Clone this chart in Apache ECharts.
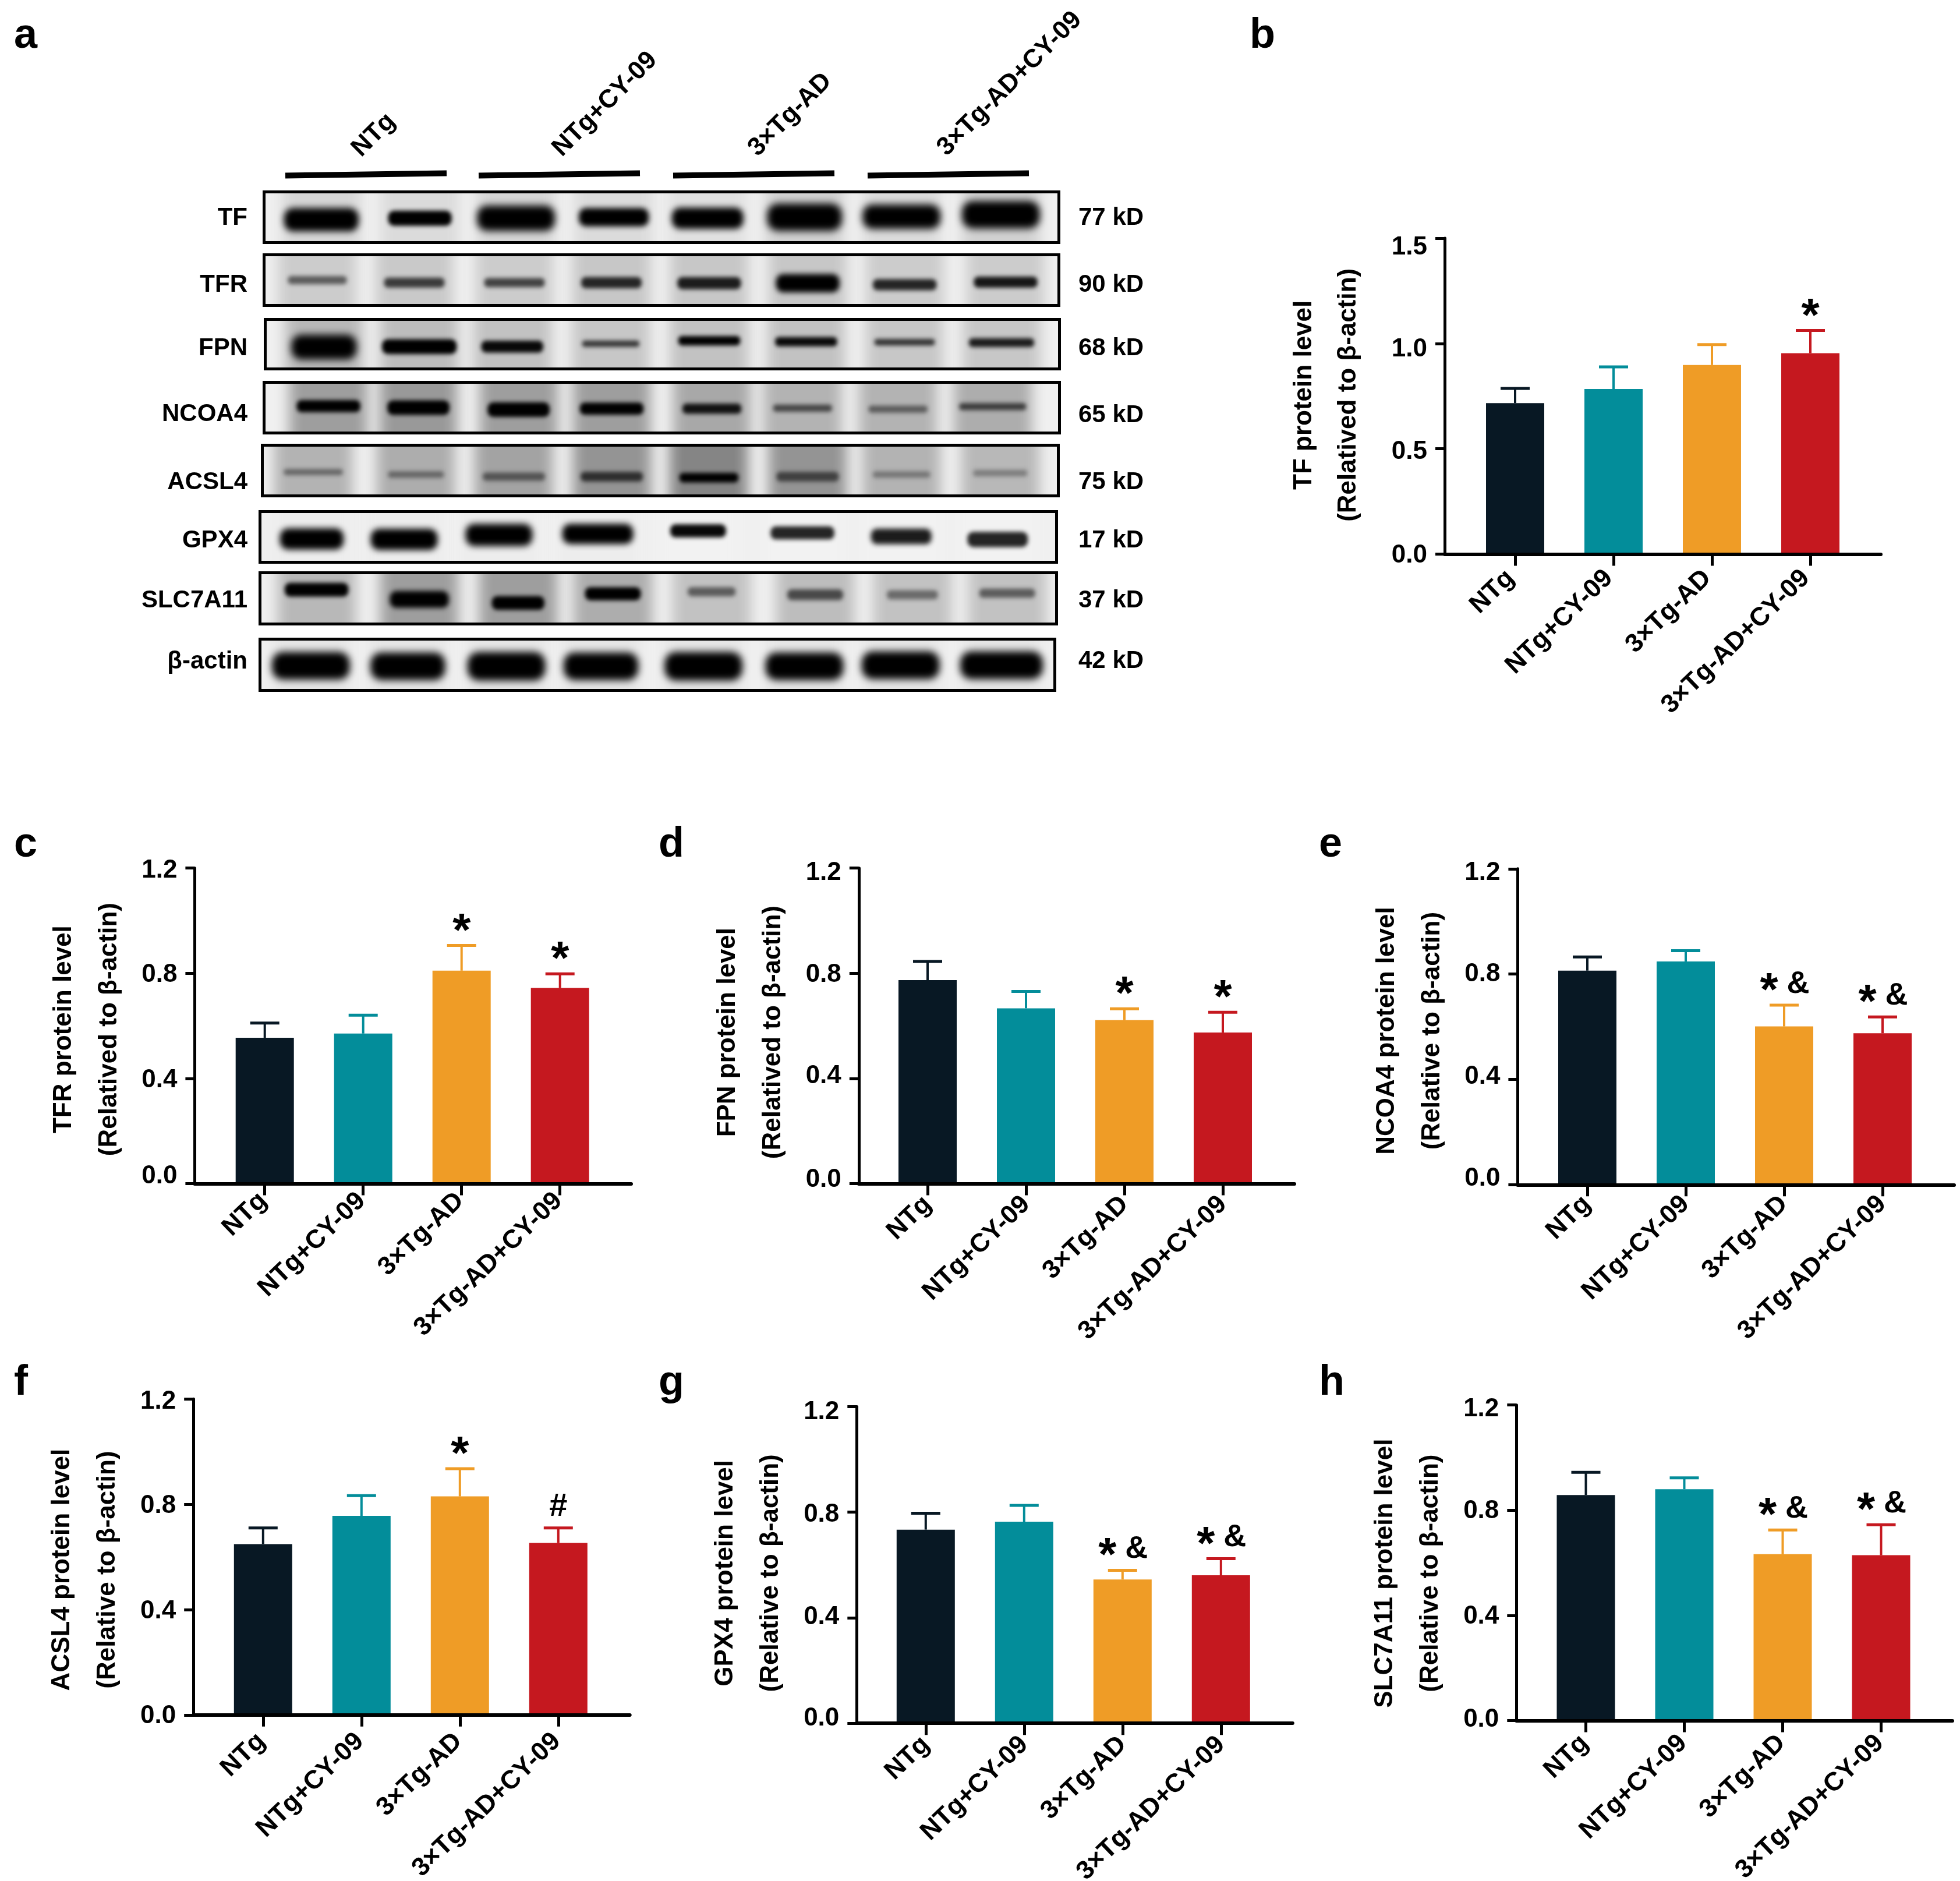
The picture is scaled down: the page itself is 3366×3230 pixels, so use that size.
<!DOCTYPE html>
<html><head><meta charset="utf-8">
<style>html,body{margin:0;padding:0;background:#fff}#c{width:3366px;height:3230px}</style>
<script src="https://cdn.jsdelivr.net/npm/echarts@6/dist/echarts.min.js"></script>
</head><body><div id="c"></div>
<script>
// ---------- bar chart data ----------
const categories = ['NTg','NTg+CY-09','3×Tg-AD','3×Tg-AD+CY-09'];
const tfMeans   = [0.717,0.784,0.898,0.954];  const tfUppers   = [0.787,0.889,0.995,1.062];  const tfMarks   = ['','','','*'];
const tfrMeans  = [0.555,0.571,0.810,0.744];  const tfrUppers  = [0.611,0.641,0.906,0.798];  const tfrMarks  = ['','','*','*'];
const fpnMeans  = [0.774,0.667,0.622,0.575];  const fpnUppers  = [0.845,0.731,0.665,0.652];  const fpnMarks  = ['','','*','*'];
const ncoaMeans = [0.813,0.848,0.601,0.575];  const ncoaUppers = [0.865,0.889,0.682,0.637];  const ncoaMarks = ['','','*&','*&'];
const acslMeans = [0.649,0.756,0.830,0.653];  const acslUppers = [0.710,0.833,0.935,0.710];  const acslMarks = ['','','*','#'];
const gpxMeans  = [0.734,0.764,0.545,0.561];  const gpxUppers  = [0.796,0.826,0.580,0.624];  const gpxMarks  = ['','','*&','*&'];
const slcMeans  = [0.858,0.880,0.633,0.629];  const slcUppers  = [0.944,0.923,0.725,0.745];  const slcMarks  = ['','','*&','*&'];
const ticks15 = [0,0.5,1.0,1.5];
const ticks12 = [0,0.4,0.8,1.2];

// ---------- blot data (lane position, band row, width, height, darkness, lane shade) ----------
const blotNames = ['TF','TFR','FPN','NCOA4','ACSL4','GPX4','SLC7A11','β-actin'];
const blotSizes = ['77 kD','90 kD','68 kD','65 kD','75 kD','17 kD','37 kD','42 kD'];
const tfLane   = [72,196,317,440,558,680,802,927];
const tfRow    = [.55,.52,.52,.50,.52,.50,.49,.45];
const tfWidth  = [94,80,98,88,90,94,98,98];
const tfHeight = [.46,.30,.50,.36,.42,.54,.48,.54];
const tfDark   = [1,1,1,1,1,1,1,1];
const tfShade  = [.84,.86,.84,.86,.88,.82,.86,.82];
const tfrLane  = [67,189,315,437,560,684,806,933];
const tfrRow   = [.50,.55,.55,.55,.56,.56,.59,.54];
const tfrWidth = [74,76,76,76,80,80,80,80];
const tfrHeight= [.16,.20,.18,.22,.24,.36,.22,.22];
const tfrDark  = [.5,.68,.64,.8,.85,1,.8,.88];
const tfrShade = [.80,.79,.80,.78,.78,.78,.80,.80];
const fpnLane  = [74,194,311,435,559,681,805,927];
const fpnRow   = [.56,.55,.55,.49,.43,.45,.46,.47];
const fpnWidth = [82,94,78,72,78,78,76,82];
const fpnHeight= [.50,.30,.24,.13,.19,.19,.13,.18];
const fpnDark  = [1,1,.95,.7,1,.95,.72,.85];
const fpnShade = [.72,.74,.76,.78,.76,.76,.78,.78];
const ncoaLane = [81,194,320,437,563,677,797,916];
const ncoaRow  = [.47,.50,.54,.52,.52,.51,.53,.48];
const ncoaWidth= [80,78,78,80,74,74,74,84];
const ncoaHeight=[.24,.29,.29,.24,.20,.14,.14,.14];
const ncoaDark = [1,1,1,1,.9,.62,.5,.68];
const ncoaShade= [.62,.60,.62,.62,.66,.70,.70,.68];
const acslLane = [64,193,316,439,561,685,803,927];
const acslRow  = [.53,.58,.62,.62,.64,.62,.58,.55];
const acslWidth= [74,70,78,78,74,78,72,68];
const acslHeight=[.12,.13,.16,.19,.19,.19,.13,.13];
const acslDark = [.45,.45,.55,.75,1,.65,.36,.32];
const acslShade= [.70,.68,.64,.58,.52,.58,.70,.72];
const gpxLane  = [65,181,300,424,550,681,805,926];
const gpxRow   = [.54,.55,.46,.44,.38,.42,.49,.55];
const gpxWidth = [80,84,84,89,70,80,76,76];
const gpxHeight= [.42,.42,.44,.40,.26,.26,.31,.30];
const gpxDark  = [1,1,1,1,.95,.8,.85,.8];
const gpxShade = [.93,.93,.93,.93,.95,.95,.95,.95];
const slcLane  = [71,200,324,443,567,697,819,938];
const slcRow   = [.33,.52,.59,.41,.37,.43,.43,.40];
const slcWidth = [80,74,66,70,60,70,64,70];
const slcHeight= [.27,.33,.27,.26,.18,.21,.18,.18];
const slcDark  = [1,1,1,1,.5,.6,.42,.5];
const slcShade = [.72,.62,.62,.68,.76,.74,.76,.76];
const actinLane= [64,186,310,429,558,685,806,933];
const actinRow = [.52,.53,.53,.53,.53,.53,.51,.51];
const actinWidth=[98,94,98,94,98,98,98,104];
const actinHeight=[.54,.54,.56,.54,.56,.54,.54,.54];
const actinDark= [1,1,1,1,1,1,1,1];
const actinShade=[.90,.90,.90,.90,.90,.90,.90,.90];
const groupNames = ['NTg','NTg+CY-09','3×Tg-AD','3×Tg-AD+CY-09'];
const panelLetters = ['a','b','c','d','e','f','g','h'];

// ---------- layout and style ----------
const barColors = ['#081824','#038D9A','#EF9C26','#C5181F'];
const FONT = '"Liberation Sans"';
const BAND = 169;
const OFF = 6000; // blur-only drawing: the shape sits off the page, only its shadow lands on it
const panels = [
 {m:tfMeans,u:tfUppers,k:tfMarks,t:ticks15,n:'TF protein level\n(Relatived to β-actin)',ax:2481,top:409,base:951.6,first:2602,end:3230,gap:127,lh:76,shift:-2,lo:[2,5,10,16],xm:27,xp:11},
 {m:tfrMeans,u:tfrUppers,k:tfrMarks,t:ticks12,n:'TFR protein level\n(Relatived to β-actin)',ax:334.4,top:1490.7,base:2032.6,first:454.7,end:1084,gap:108,lh:78,shift:6,lo:[-13,3,3,4],xm:20,xp:4},
 {m:fpnMeans,u:fpnUppers,k:fpnMarks,t:ticks12,n:'FPN protein level\n(Relatived to β-actin)',ax:1474.8,top:1490.7,base:2032.6,first:1593,end:2223,gap:108,lh:78,shift:11,lo:[-7,-4,3,8],xm:29,xp:0},
 {m:ncoaMeans,u:ncoaUppers,k:ncoaMarks,t:ticks12,n:'NCOA4 protein level\n(Relative to β-actin)',ax:2606.4,top:1491.8,base:2034.3,first:2726,end:3356,gap:108,lh:78,shift:7,lo:[-10,-5,0,7],xm:26,xp:1},
 {m:acslMeans,u:acslUppers,k:acslMarks,t:ticks12,n:'ACSL4 protein level\n(Relative to β-actin)',ax:332.2,top:2402.3,base:2944.8,first:451.8,end:1081.7,gap:108,lh:78,shift:22,lo:[2,3,3,5],xm:36,xp:4},
 {m:gpxMeans,u:gpxUppers,k:gpxMarks,t:ticks12,n:'GPX4 protein level\n(Relative to β-actin)',ax:1471.3,top:2415.5,base:2959.2,first:1589.8,end:2219.8,gap:108,lh:78,shift:14,lo:[-8,-1,4,9],xm:30,xp:0},
 {m:slcMeans,u:slcUppers,k:slcMarks,t:ticks12,n:'SLC7A11 protein level\n(Relative to β-actin)',ax:2604.3,top:2412.7,base:2954.6,first:2723.5,end:3353,gap:108,lh:78,shift:18,lo:[-2,2,2,7],xm:30,xp:3}
];
const blots = [
 {f:[451,1821,327,419],ly:374,ry:374,lane:tfLane,row:tfRow,w:tfWidth,h:tfHeight,d:tfDark,s:tfShade},
 {f:[451,1821,435,527],ly:489,ry:489,lane:tfrLane,row:tfrRow,w:tfrWidth,h:tfrHeight,d:tfrDark,s:tfrShade},
 {f:[453,1822,546,636],ly:598,ry:598,lane:fpnLane,row:fpnRow,w:fpnWidth,h:fpnHeight,d:fpnDark,s:fpnShade},
 {f:[451,1822,654,746],ly:711,ry:713,lane:ncoaLane,row:ncoaRow,w:ncoaWidth,h:ncoaHeight,d:ncoaDark,s:ncoaShade},
 {f:[448,1820,762,854],ly:828,ry:828,lane:acslLane,row:acslRow,w:acslWidth,h:acslHeight,d:acslDark,s:acslShade},
 {f:[444,1817,876,968],ly:928,ry:928,lane:gpxLane,row:gpxRow,w:gpxWidth,h:gpxHeight,d:gpxDark,s:gpxShade},
 {f:[444,1817,981,1074],ly:1031,ry:1031,lane:slcLane,row:slcRow,w:slcWidth,h:slcHeight,d:slcDark,s:slcShade},
 {f:[444,1814,1095,1188],ly:1136,ry:1135,lane:actinLane,row:actinRow,w:actinWidth,h:actinHeight,d:actinDark,s:actinShade}
];

const W = 3366, H = 3230;
const grid = [], xAxis = [], yAxis = [], series = [], graphic = [];
const gray = v => { const c = Math.round(255*v); return `rgb(${c},${c},${c})`; };
function txt(x,y,text,size,align,rot,vAlign){
  const el = {type:'text',x,y,silent:true,z:10,style:{text,fill:'#000',font:`bold ${size}px ${FONT}`,
    textAlign:align,align:align,textVerticalAlign:vAlign||'middle',verticalAlign:vAlign||'middle'}};
  if(rot) el.rotation = rot;
  graphic.push(el);
}

// bar panels
panels.forEach(p=>{
  const g1 = grid.length, x1 = xAxis.length, y1 = yAxis.length;
  const left = p.first - BAND/2;
  const maxV = p.t[p.t.length-1], step = p.t[1]-p.t[0];
  const rich = {};
  p.lo.forEach((d,i)=>{ rich['o'+i] = {color:'#000',fontFamily:FONT,fontWeight:'bold',fontSize:44,
    padding:d>0?[2*d,0,0,0]:[0,0,-2*d,0]}; });
  grid.push({left,width:BAND*4,top:p.top,height:p.base-p.top,outerBoundsMode:'none',containLabel:false});
  xAxis.push({type:'category',gridIndex:g1,data:categories,position:'bottom',
    axisLine:{show:false},
    axisTick:{show:true,alignWithLabel:true,length:20,lineStyle:{color:'#000',width:5}},
    axisLabel:{interval:0,rotate:44,margin:p.xm,padding:[0,p.xp,0,0],color:'#000',fontFamily:FONT,fontWeight:'bold',fontSize:44.5,hideOverlap:false}});
  yAxis.push({type:'value',gridIndex:g1,min:0,max:maxV,interval:step,offset:left-p.ax,splitLine:{show:false},
    axisLine:{show:true,lineStyle:{color:'#000',width:5}},
    axisTick:{show:true,length:16,lineStyle:{color:'#000',width:5}},
    axisLabel:{margin:30,rich,formatter:v=>`{o${p.t.findIndex(t=>Math.abs(t-v)<1e-6)}|${v.toFixed(1)}}`},
    name:p.n,nameLocation:'middle',nameRotate:90,nameGap:p.gap,
    nameTextStyle:{color:'#000',fontFamily:FONT,fontWeight:'bold',fontSize:44,lineHeight:p.lh,
      padding:p.shift>=0?[0,p.shift*2,0,0]:[0,0,0,-p.shift*2]}});
  series.push({type:'bar',xAxisIndex:x1,yAxisIndex:y1,barWidth:100,silent:true,animation:false,z:3,
    data:p.m.map((v,i)=>({value:v,itemStyle:{color:barColors[i]}}))});
  series.push({type:'custom',xAxisIndex:x1,yAxisIndex:y1,silent:true,animation:false,z:2,clip:false,
    encode:{x:0,y:[1,2]},
    data:p.m.map((v,i)=>[i,v,p.u[i]]),
    renderItem(params,api){
      const i = api.value(0), col = barColors[i];
      const a = api.coord([i,api.value(1)]), b = api.coord([i,api.value(2)]);
      const kids = [
        {type:'line',shape:{x1:a[0],y1:a[1],x2:b[0],y2:b[1]},style:{stroke:col,lineWidth:4}},
        {type:'line',shape:{x1:a[0]-25,y1:b[1],x2:a[0]+25,y2:b[1]},style:{stroke:col,lineWidth:5}}
      ];
      const mark = p.k[i];
      const t = (s,x,y,size)=>({type:'text',style:{text:s,x,y,fill:'#000',font:`bold ${size}px ${FONT}`,align:'center',verticalAlign:'middle'}});
      if(mark==='*') kids.push(t('*',a[0],b[1]-22,80));
      if(mark==='#') kids.push(t('#',a[0],b[1]-36,56));
      if(mark==='*&'){ kids.push(t('*',a[0]-26,b[1]-22,80)); kids.push(t('&',a[0]+24,b[1]-36,54)); }
      return {type:'group',children:kids};
    }});
  // wide baseline that reaches past the bars on both sides
  const g2 = grid.length;
  grid.push({left:p.ax,width:p.end-p.ax,top:p.top,height:p.base-p.top,outerBoundsMode:'none',containLabel:false});
  xAxis.push({type:'value',gridIndex:g2,min:0,max:1,z:6,position:'bottom',splitLine:{show:false},axisTick:{show:false},axisLabel:{show:false},
    axisLine:{show:true,onZero:false,lineStyle:{color:'#000',width:6}}});
  yAxis.push({type:'value',gridIndex:g2,min:0,max:1,show:false,splitLine:{show:false}});
});

// blots
blots.forEach(b=>{
  const [x0,x1,y0,y1] = b.f, g = grid.length, xi = xAxis.length, yi = yAxis.length;
  grid.push({left:x0+2.5,width:x1-x0-5,top:y0+2.5,height:y1-y0-5,outerBoundsMode:'none',containLabel:false,
    show:true,backgroundColor:'#f0f0f0',borderWidth:0});
  xAxis.push({type:'value',gridIndex:g,min:0,max:1000,show:false,splitLine:{show:false}});
  yAxis.push({type:'value',gridIndex:g,min:0,max:1,inverse:true,show:false,splitLine:{show:false}});
  series.push({type:'custom',xAxisIndex:xi,yAxisIndex:yi,silent:true,animation:false,clip:true,z:1,
    data:b.lane.map((l,i)=>[l,b.s[i]]),encode:{x:0,y:1},
    renderItem(params,api){
      const c = api.coord([api.value(0),0]), wpx = api.size([98,0])[0], cs = params.coordSys, col = gray(api.value(1));
      return {type:'rect',shape:{x:c[0]-wpx/2-OFF,y:cs.y-40,width:wpx,height:cs.height+80},
        style:{fill:col,shadowBlur:22,shadowColor:col,shadowOffsetX:OFF}};
    }});
  series.push({type:'custom',xAxisIndex:xi,yAxisIndex:yi,silent:true,animation:false,clip:true,z:2,
    data:b.lane.map((l,i)=>[l,b.row[i],b.w[i],b.h[i],b.d[i]]),encode:{x:0,y:1},
    renderItem(params,api){
      const c = api.coord([api.value(0),api.value(1)]);
      const wpx = api.size([api.value(2),0])[0], hpx = api.size([0,api.value(3)])[1];
      const col = gray(0.72*(1-api.value(4)));
      const blur = Math.max(7,Math.min(13,hpx*0.3));
      return {type:'rect',shape:{x:c[0]-wpx/2-OFF,y:c[1]-hpx/2,width:wpx,height:hpx,r:hpx*0.4},
        style:{fill:col,shadowBlur:blur,shadowColor:col,shadowOffsetX:OFF}};
    }});
  series.push({type:'custom',xAxisIndex:xi,yAxisIndex:yi,silent:true,animation:false,clip:false,z:4,
    data:[[0,0]],encode:{x:0,y:1},
    renderItem(params){
      const cs = params.coordSys;
      return {type:'rect',shape:{x:cs.x,y:cs.y,width:cs.width,height:cs.height},style:{fill:'none',stroke:'#000',lineWidth:5}};
    }});
});
blots.forEach((b,i)=>{
  txt(425,b.ly,blotNames[i],42,'right');
  txt(1852,b.ry,blotSizes[i],42,'left');
});

// group bars and labels above the blots
const groupBarStarts = [490,822,1156,1490];
groupBarStarts.forEach(x=>{
  graphic.push({type:'line',silent:true,z:10,shape:{x1:x,y1:301.5,x2:x+277,y2:297.5},style:{stroke:'#000',lineWidth:10}});
});
const groupCentres = [[642,232],[1039,179],[1357,197],[1734,144]];
groupNames.forEach((n,i)=>txt(groupCentres[i][0],groupCentres[i][1],n,44,'center',Math.PI/4));

// panel letters
const letterPos = [[24,26],[2146,26],[24,1415],[1131,1415],[2265,1415],[24,2339],[1131,2339],[2265,2339]];
panelLetters.forEach((s,i)=>txt(letterPos[i][0],letterPos[i][1],s,72,'left',0,'top'));

const chart = echarts.init(document.getElementById('c'),null,{renderer:'canvas',width:W,height:H});
chart.setOption({animation:false,backgroundColor:'#fff',grid,xAxis,yAxis,series,graphic});
</script></body></html>
